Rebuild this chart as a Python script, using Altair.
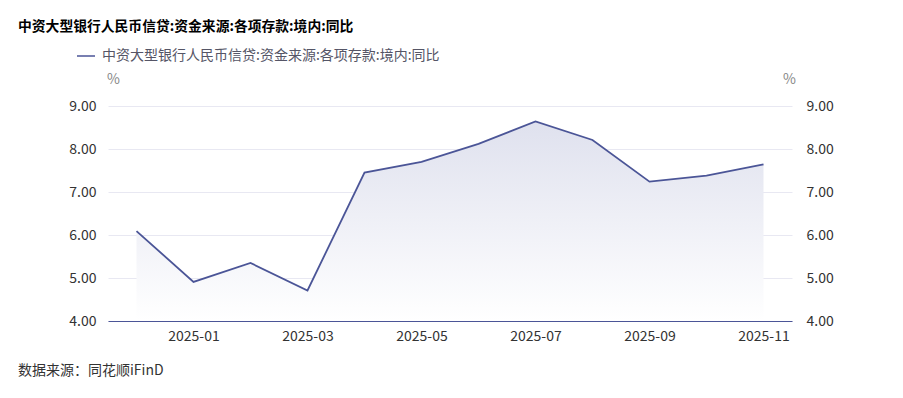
import altair as alt
import pandas as pd

months = ["2024-12", "2025-01", "2025-02", "2025-03", "2025-04", "2025-05",
          "2025-06", "2025-07", "2025-08", "2025-09", "2025-10", "2025-11"]
values = [6.09, 4.91, 5.35, 4.71, 7.45, 7.70, 8.12, 8.64, 8.21, 7.24, 7.38, 7.64]
series_name = "中资大型银行人民币信贷:资金来源:各项存款:境内:同比"
chart_title = "中资大型银行人民币信贷:资金来源:各项存款:境内:同比"
source_note = "数据来源：同花顺iFinD"
x_label_months = ["2025-01", "2025-03", "2025-05", "2025-07", "2025-09", "2025-11"]
y_ticks = [4, 5, 6, 7, 8, 9]

FONT = "Noto Sans CJK SC"
LINE = "#4b5597"

df = pd.DataFrame({"month": months, "value": values, "series": [series_name] * len(months)})

x_enc = alt.X("month:O", scale=alt.Scale(type="point", padding=0.5),
              axis=alt.Axis(values=x_label_months, title=None, labelAngle=0, ticks=False, tickSize=0,
                            labelPadding=8, labelFontSize=14, labelColor="#333333", labelFont=FONT,
                            domainColor=LINE, domainWidth=1, grid=False))
y_scale = alt.Scale(domain=[4, 9], nice=False, zero=False)

base = alt.Chart(df)

area = base.mark_area(
    color=alt.Gradient(gradient="linear",
                       stops=[alt.GradientStop(color="#ffffff", offset=0),
                              alt.GradientStop(color="#dfe1ee", offset=1)],
                       x1=1, x2=1, y1=1, y2=0)
).encode(
    x=x_enc,
    y=alt.Y("value:Q", scale=y_scale,
            axis=alt.Axis(orient="right", values=y_ticks, format=".2f", title="%", titleAngle=0,
                          titleX=-3, titleY=-27, titleFontSize=14, titleFontWeight="normal",
                          titleColor="#888888", titleFont=FONT, titleAlign="center", titleBaseline="middle",
                          ticks=False, tickSize=0, labelPadding=14, labelFontSize=14, labelColor="#333333",
                          labelFont=FONT, domain=False, grid=False)),
    y2=alt.datum(4),
)

line = base.mark_line(strokeWidth=1.8).encode(
    x=x_enc,
    y=alt.Y("value:Q", scale=y_scale,
            axis=alt.Axis(orient="left", values=y_ticks, format=".2f", title="%", titleAngle=0,
                          titleX=5, titleY=-27, titleFontSize=14, titleFontWeight="normal",
                          titleColor="#888888", titleFont=FONT, titleAlign="center", titleBaseline="middle",
                          ticks=False, tickSize=0, labelPadding=12, labelFontSize=14, labelColor="#333333",
                          labelFont=FONT, domain=False, grid=True, gridColor="#e8e8f2", gridWidth=1)),
    color=alt.Color("series:N", scale=alt.Scale(range=[LINE]),
                    legend=alt.Legend(orient="none", legendX=-32, legendY=-60, title=None,
                                      symbolType="stroke", symbolSize=324, symbolStrokeWidth=1.5,
                                      labelFontSize=14, labelColor="#555566", labelFont=FONT,
                                      labelLimit=0, padding=0, labelOffset=6)),
)

title_txt = alt.Chart(pd.DataFrame({"t": [chart_title]})).mark_text(
    align="left", baseline="middle", fontSize=13.8, fontWeight="bold", font=FONT, color="#000000"
).encode(text="t:N", x=alt.value(-90), y=alt.value(-79))

note_txt = alt.Chart(pd.DataFrame({"t": [source_note]})).mark_text(
    align="left", baseline="middle", fontSize=14, font=FONT, color="#333333"
).encode(text="t:N", x=alt.value(-90), y=alt.value(265))

chart = alt.layer(area, line, title_txt, note_txt).resolve_axis(y="independent").properties(
    width=684, height=215,
    autosize=alt.AutoSizeParams(type="none"),
    padding={"left": 100, "top": 98, "right": 103, "bottom": 69},
    background="white",
).configure_view(stroke=None)

chart.save("out.html", embed_options={"renderer": "svg", "actions": False})
